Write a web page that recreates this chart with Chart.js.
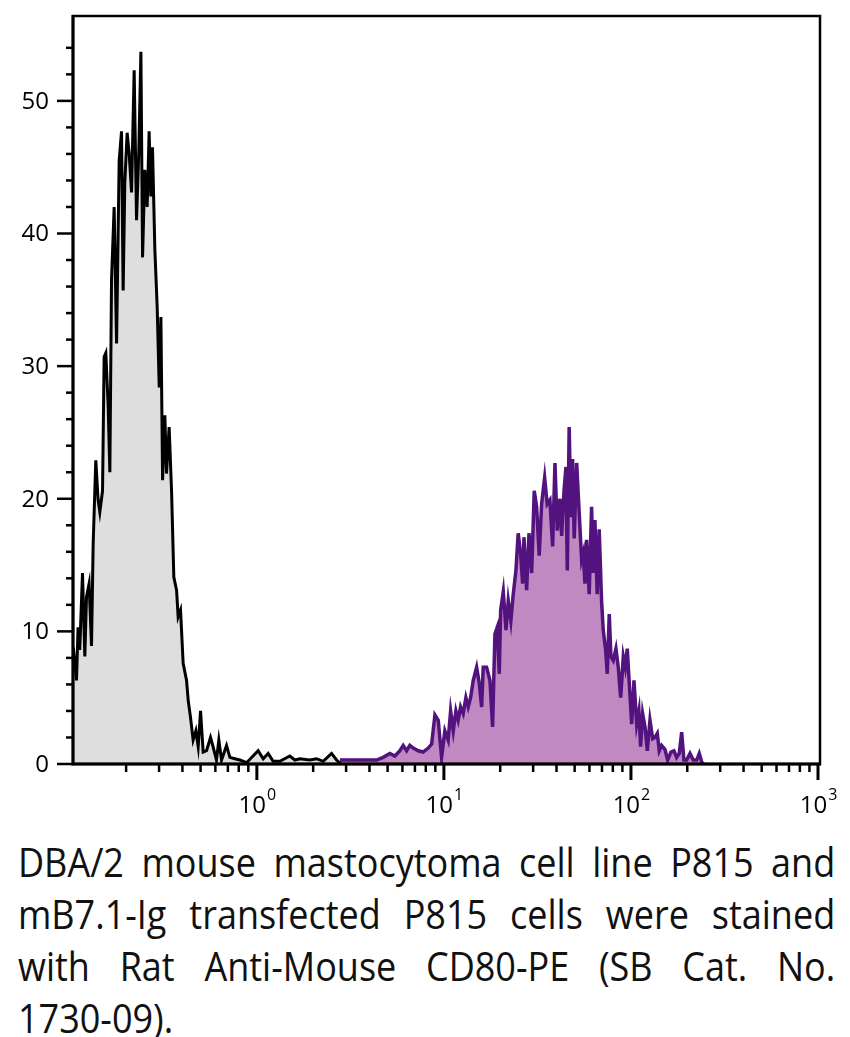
<!DOCTYPE html>
<html>
<head>
<meta charset="utf-8">
<script src="https://cdn.jsdelivr.net/npm/chart.js@4.4.1/dist/chart.umd.min.js"></script>
<style>
    html, body { margin: 0; padding: 0; background: #fff; overflow: hidden; }
    #wrap { position: relative; width: 850px; height: 830px; }
    #caption {
        position: absolute; left: 18px; top: 836px; width: 908px;
        transform: scaleX(0.9); transform-origin: 0 0;
        font-family: "Open Sans", sans-serif;
        font-size: 40px; line-height: 52px; color: #111;
    }
    .ln { text-align: justify; text-align-last: justify; white-space: nowrap; }
</style>
</head>
<body>
<div id="wrap"><canvas id="histogram" width="850" height="830"></canvas></div>
<div id="caption">
    <div class="ln">DBA/2 mouse mastocytoma cell line P815 and</div>
    <div class="ln">mB7.1-Ig transfected P815 cells were stained</div>
    <div class="ln">with Rat Anti-Mouse CD80-PE (SB Cat. No.</div>
    <div>1730-09).</div>
</div>
<script>
// P815 (unstained / control) - grey histogram
const grayX = [0.1044, 0.1086, 0.1107, 0.113, 0.1169, 0.1203, 0.1228, 0.1268, 0.1306, 0.1333,
    0.1377, 0.1417, 0.1447, 0.1496, 0.1526, 0.1558, 0.1603, 0.1637, 0.1671, 0.1726,
    0.1778, 0.1836, 0.189, 0.1928, 0.1968, 0.2025, 0.2075, 0.2138, 0.2208, 0.2274,
    0.2339, 0.2399, 0.2449, 0.2518, 0.2591, 0.2655, 0.271, 0.2767, 0.2849, 0.2931,
    0.3006, 0.3069, 0.3133, 0.3222, 0.3289, 0.3396, 0.3499, 0.3598, 0.3722, 0.3795,
    0.3908, 0.4036, 0.4208, 0.4295, 0.442, 0.4564, 0.4721, 0.4856, 0.5, 0.5164,
    0.5383, 0.5651, 0.5834, 0.6081, 0.6262, 0.6473, 0.6885, 0.7172, 0.7627, 0.811,
    0.881, 1.016, 1.081, 1.149, 1.222, 1.327, 1.5, 1.597, 1.698, 1.92,
    2.084, 2.263, 2.508, 2.668, 2.81];
const grayY = [8.8, 6.3, 10.3, 8.6, 14.4, 8.1, 12.6, 13.6, 8.9, 16.6,
    22.9, 19.9, 19.0, 20.6, 30.7, 31.0, 27.0, 22.0, 36.5, 42.0,
    31.7, 45.5, 47.7, 35.7, 43.8, 47.6, 46.1, 43.1, 52.3, 41.0,
    46.3, 53.7, 38.2, 44.8, 42.0, 47.7, 42.8, 46.5, 38.8, 34.5,
    28.4, 33.7, 21.4, 26.3, 21.9, 25.4, 20.6, 14.1, 13.1, 11.1,
    11.6, 7.6, 6.3, 4.8, 3.5, 1.8, 2.5, 1.3, 4.0, 0.9,
    1.0, 2.0, 1.3, 0.3, 1.8, 0.3, 1.4, 0.5, 0.4, 0.3,
    0.1, 1.0, 0.4, 0.8, 0.2, 0.2, 0.6, 0.3, 0.4, 0.3,
    0.4, 0.2, 0.8, 0.3, 0];

// mB7.1-Ig transfected P815 - purple histogram
const purpleX = [2.778, 3.273, 3.861, 4.365, 4.736, 5.142, 5.47, 5.818, 6.058, 6.32,
    6.577, 6.855, 7.29, 7.745, 8.245, 8.596, 8.954, 9.327, 9.717, 10.12,
    10.54, 10.86, 11.22, 11.59, 11.92, 12.28, 12.68, 13.11, 13.49, 13.89,
    14.35, 14.96, 15.45, 15.91, 16.23, 16.91, 17.63, 18.21, 18.74, 19.27,
    19.77, 20.11, 20.77, 21.47, 22.08, 22.8, 23.48, 24.27, 24.95, 25.7,
    26.35, 26.79, 27.69, 28.5, 29.45, 30.4, 31.31, 32.33, 33.29, 34.56,
    35.67, 36.88, 38.13, 39.24, 40.38, 41.72, 42.62, 43.87, 44.93, 45.67,
    46.74, 47.76, 48.76, 49.72, 51.26, 52.9, 54.48, 55.57, 56.76, 57.95,
    59.81, 61.6, 62.82, 64.17, 66.01, 67.63, 69.66, 71.08, 73.24, 74.73,
    76.56, 78.17, 80.4, 83.12, 85.54, 88.14, 91.0, 93.26, 95.58, 97.95,
    100.9, 103.8, 107.3, 110.3, 112.6, 115.5, 118.9, 122.3, 126.4, 130.7,
    134.4, 138.3, 141.7, 145.9, 151.9, 157.1, 163.6, 169.8, 175.5, 181.2,
    186.7, 192.0, 198.6, 206.8, 215.4, 224.6, 231.9, 239.6, 245];
const purpleY = [0.3, 0.3, 0.3, 0.3, 0.5, 0.8, 0.6, 1.0, 1.4, 1.0,
    1.4, 1.2, 1.0, 0.9, 1.2, 1.5, 3.7, 3.3, 0.5, 2.5,
    1.8, 4.0, 2.5, 4.0, 3.3, 4.3, 3.8, 5.0, 4.3, 5.0,
    6.3, 7.3, 6.1, 4.3, 7.3, 7.3, 6.3, 2.8, 9.8, 10.3,
    6.8, 11.6, 13.0, 10.1, 12.3, 10.8, 12.8, 14.6, 17.4, 15.9,
    13.6, 17.1, 13.1, 17.4, 14.4, 20.6, 19.4, 15.7, 19.6, 21.6,
    19.6, 19.9, 16.4, 22.7, 17.6, 20.0, 17.2, 20.6, 22.4, 14.6,
    25.4, 18.6, 23.0, 17.0, 22.7, 18.9, 15.4, 15.9, 13.6, 16.9,
    12.8, 19.4, 14.4, 18.4, 12.8, 17.7, 12.3, 10.1, 8.6, 6.8,
    11.3, 8.1, 7.8, 8.7, 7.3, 5.0, 8.1, 7.3, 8.7, 6.1,
    3.0, 6.3, 3.0, 4.0, 1.3, 3.8, 2.8, 1.0, 3.3, 1.9,
    2.0, 2.3, 1.0, 1.4, 1.1, 0.3, 0.9, 1.0, 0.5, 0.8,
    2.4, 0.3, 0.3, 0.8, 0.3, 0.3, 0.8, 0.1, 0];

// axis ticks
const yTickLabels = [0, 10, 20, 30, 40, 50];
const yMinorTicks = [2, 4, 6, 8, 12, 14, 16, 18, 22, 24, 26, 28, 32, 34, 36, 38, 42, 44, 46, 48, 52, 54];
const xDecades = [1, 10, 100, 1000];
const xExponents = ['0', '1', '2', '3'];
const xMinorSteps = [2, 3, 4, 5, 6, 7, 8, 9];

const ctx = document.getElementById('histogram').getContext('2d');
const toPoints = (xs, ys) => xs.map((x, i) => ({ x: x, y: ys[i] }));

// frame, tick marks and labels (drawn with the chart scales)
const axisDecor = {
    id: 'axisDecor',
    afterDatasetsDraw(chart) {
        const c = chart.ctx;
        const area = chart.chartArea;
        const xs = chart.scales.x;
        const ys = chart.scales.y;
        c.save();
        c.strokeStyle = '#000';
        c.fillStyle = '#000';

        // box
        c.lineWidth = 2.5;
        c.strokeRect(area.left, area.top, area.right - area.left, area.bottom - area.top);
        c.lineWidth = 3;
        c.beginPath();
        c.moveTo(area.left, area.top - 1);
        c.lineTo(area.left, area.bottom);
        c.lineTo(area.right + 1, area.bottom);
        c.stroke();

        // y ticks
        c.lineWidth = 2.5;
        yMinorTicks.forEach(v => {
            const py = ys.getPixelForValue(v);
            c.beginPath(); c.moveTo(area.left - 7, py); c.lineTo(area.left, py); c.stroke();
        });
        c.font = '24px "Open Sans", sans-serif';
        c.textAlign = 'right';
        c.textBaseline = 'middle';
        yTickLabels.forEach(v => {
            const py = ys.getPixelForValue(v);
            c.beginPath(); c.moveTo(area.left - 16, py); c.lineTo(area.left, py); c.stroke();
            c.fillText(String(v), area.left - 24, py + 1);
        });

        // x ticks
        xDecades.forEach(d => {
            xMinorSteps.forEach(k => {
                const v = d * k / 10;
                if (v <= xs.min || v >= xs.max) return;
                const px = xs.getPixelForValue(v);
                c.beginPath(); c.moveTo(px, area.bottom); c.lineTo(px, area.bottom + 8); c.stroke();
            });
        });
        c.textAlign = 'left';
        c.textBaseline = 'alphabetic';
        xDecades.forEach((d, i) => {
            const px = xs.getPixelForValue(d);
            c.lineWidth = 3;
            c.beginPath(); c.moveTo(px, area.bottom); c.lineTo(px, area.bottom + 16); c.stroke();
            c.font = '24px "Open Sans", sans-serif';
            const wBase = c.measureText('10').width;
            c.font = '16px "Open Sans", sans-serif';
            const wExp = c.measureText(xExponents[i]).width;
            const start = px - (wBase + wExp) / 2;
            c.font = '24px "Open Sans", sans-serif';
            c.fillText('10', start, 813);
            c.font = '16px "Open Sans", sans-serif';
            c.fillText(xExponents[i], start + wBase + 1, 800);
        });
        c.restore();
    }
};

const config = {
    type: 'line',
    data: {
        datasets: [{
            label: 'P815',
            data: toPoints(grayX, grayY),
            borderColor: '#000000',
            backgroundColor: '#dedede',
            borderWidth: 3,
            fill: 'origin'
        }, {
            label: 'mB7.1-Ig P815',
            data: toPoints(purpleX, purpleY),
            borderColor: '#52137f',
            backgroundColor: '#c089c1',
            borderWidth: 3.5,
            fill: 'origin'
        }]
    },
    options: {
        responsive: false,
        animation: false,
        devicePixelRatio: 1,
        layout: { padding: { top: 16, right: 30, left: 0, bottom: 0 } },
        elements: { point: { radius: 0 }, line: { tension: 0 } },
        plugins: { legend: { display: false }, tooltip: { enabled: false } },
        scales: {
            x: {
                type: 'logarithmic',
                min: 0.104,
                max: 1025,
                grid: { display: false },
                border: { display: false },
                ticks: { display: false },
                afterFit: (scale) => { scale.height = 66; }
            },
            y: {
                min: 0,
                max: 56.4,
                grid: { display: false },
                border: { display: false },
                ticks: { display: false },
                afterFit: (scale) => { scale.width = 73; }
            }
        }
    },
    plugins: [axisDecor]
};

const histogramChart = new Chart(ctx, config);
</script>
</body>
</html>
